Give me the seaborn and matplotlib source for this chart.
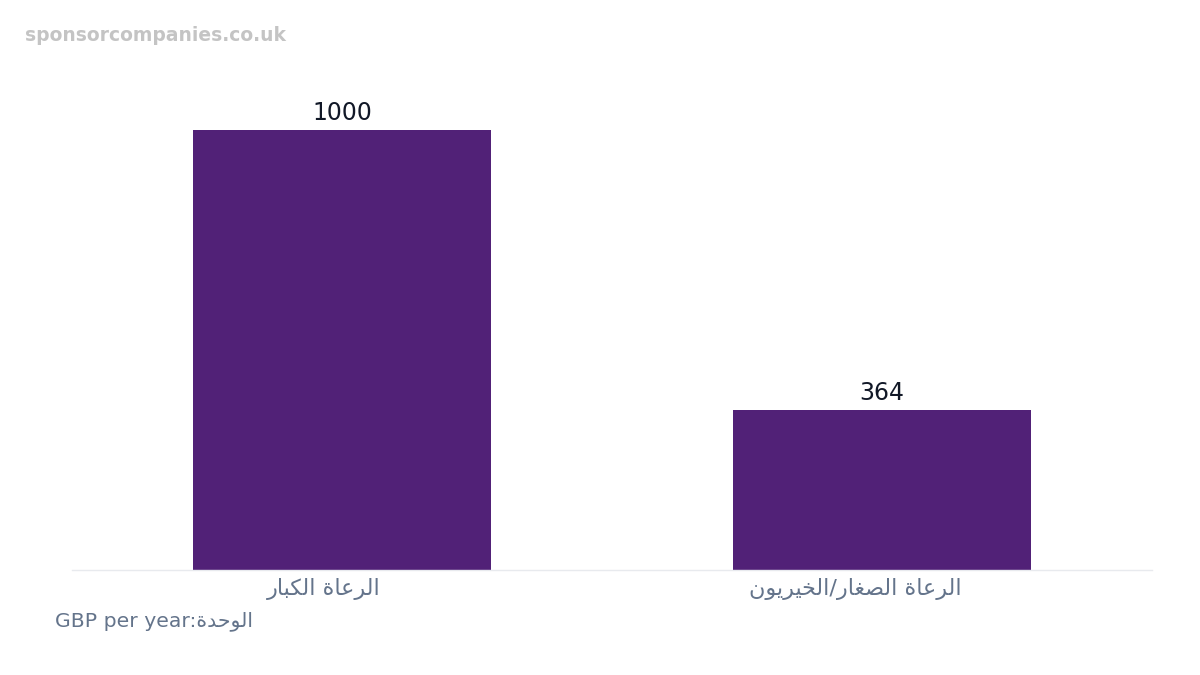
import matplotlib
matplotlib.use("Agg")
import matplotlib.pyplot as plt
import matplotlib.transforms as mtransforms
import seaborn as sns
import pandas as pd

# ---- data ----
categories = ["الرعاة الكبار", "الرعاة الصغار/الخيريون"]
values = [1000, 364]
unit_label = "الوحدة"
unit_text = "GBP per year"
watermark = "sponsorcompanies.co.uk"

bar_color = "#512177"

# matplotlib has no Arabic shaping, so map letters to presentation forms
# (isolated, final, initial, medial) and reverse for right-to-left display
FORMS = {
    "ا": ("\uFE8D", "\uFE8E", None, None),
    "ب": ("\uFE8F", "\uFE90", "\uFE91", "\uFE92"),
    "ة": ("\uFE93", "\uFE94", None, None),
    "ح": ("\uFEA1", "\uFEA2", "\uFEA3", "\uFEA4"),
    "خ": ("\uFEA5", "\uFEA6", "\uFEA7", "\uFEA8"),
    "د": ("\uFEA9", "\uFEAA", None, None),
    "ر": ("\uFEAD", "\uFEAE", None, None),
    "ص": ("\uFEB9", "\uFEBA", "\uFEBB", "\uFEBC"),
    "ع": ("\uFEC9", "\uFECA", "\uFECB", "\uFECC"),
    "غ": ("\uFECD", "\uFECE", "\uFECF", "\uFED0"),
    "ك": ("\uFED9", "\uFEDA", "\uFEDB", "\uFEDC"),
    "ل": ("\uFEDD", "\uFEDE", "\uFEDF", "\uFEE0"),
    "ن": ("\uFEE5", "\uFEE6", "\uFEE7", "\uFEE8"),
    "و": ("\uFEED", "\uFEEE", None, None),
    "ي": ("\uFEF1", "\uFEF2", "\uFEF3", "\uFEF4"),
}


def shape_rtl(text):
    out = []
    for i, ch in enumerate(text):
        if ch not in FORMS:
            out.append(ch)
            continue
        prev = text[i - 1] if i > 0 else ""
        nxt = text[i + 1] if i + 1 < len(text) else ""
        join_prev = prev in FORMS and FORMS[prev][2] is not None
        join_next = nxt in FORMS and FORMS[ch][2] is not None
        iso, fin, ini, med = FORMS[ch]
        if join_prev and join_next:
            out.append(med)
        elif join_prev:
            out.append(fin)
        elif join_next:
            out.append(ini)
        else:
            out.append(iso)
    return "".join(out[::-1])


df = pd.DataFrame({"category": [shape_rtl(c) for c in categories], "value": values})

sns.set_theme(style="white")
plt.rcParams["font.family"] = ["DejaVu Sans"]

fig = plt.figure(figsize=(12, 6.75), dpi=100)
ax = fig.add_axes([0.06, 0.1556, 0.90, 0.717])

sns.barplot(data=df, x="category", y="value", color=bar_color, width=0.553,
            saturation=1, linewidth=0, ax=ax)

for i, v in enumerate(values):
    ax.text(i, v + 12, str(v), ha="center", va="bottom", fontsize=17, color="#111827")

ax.set_xlim(-0.5, 1.5)
ax.set_ylim(0, 1100)
ax.set_xlabel("")
ax.set_ylabel("")
ax.set_yticks([])
ax.tick_params(axis="x", length=0, pad=6, labelsize=16, labelcolor="#64748b")
# the labels sit a little left of the bar centres in the original
for lab, dx in zip(ax.get_xticklabels(), [-18, -27]):
    lab.set_transform(lab.get_transform() +
                      mtransforms.ScaledTranslation(dx / 100, 0, fig.dpi_scale_trans))
for side in ["top", "right", "left"]:
    ax.spines[side].set_visible(False)
ax.spines["bottom"].set_color("#e8eaee")
ax.spines["bottom"].set_linewidth(1)

fig.text(0.046, 0.08, unit_text + ":" + shape_rtl(unit_label), fontsize=14.7,
         color="#64748b", ha="left", va="center")
fig.text(0.021, 0.947, watermark, fontsize=13.5, fontweight="bold",
         color="#c4c4c4", ha="left", va="center")

fig.savefig("out.png", dpi=100)
